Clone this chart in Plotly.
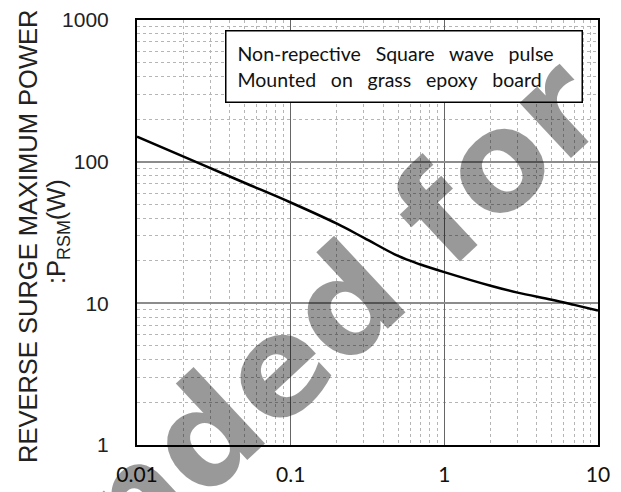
import plotly.graph_objects as go

# Data (pulse width vs. max surge power)
pulse_width = [0.01, 0.025, 0.05, 0.1, 0.2, 0.3, 0.5, 0.7, 1, 2, 3, 5, 7, 10]
power_w = [150, 98, 71, 51.5, 36.5, 29.0, 21.6, 18.8, 16.6, 13.3, 11.9, 10.6, 9.75, 8.9]

x_tickvals = [0.01, 0.1, 1, 10]
x_ticktext = ["0.01", "0.1", "1", "10"]
y_tickvals = [1, 10, 100, 1000]
y_ticktext = ["1", "10", "100", "1000"]

G2 = "\u2002\u00a0"
box_lines = ["Non-repective" + G2 + "Square" + G2 + "wave" + G2 + "pulse",
             "Mounted" + G2 + "on" + G2 + "grass" + G2 + "epoxy" + G2 + "board"]
ytitle_1 = "REVERSE SURGE MAXIMUM POWER"
ytitle_2 = ":P<sub>RSM</sub>(W)"
watermark = "Recommended for"

fig = go.Figure()
fig.add_trace(go.Scatter(
    x=pulse_width, y=power_w, mode="lines",
    line=dict(color="black", width=2.5, shape="spline", smoothing=1.0),
    showlegend=False, hoverinfo="skip"))

# page body has an 8px margin; plot area targeted at viewport 137..598 x 20..445
OFF = 8
W, H = 621 - OFF, 492 - OFF
L, T = 137 - OFF, 20 - OFF
R, B = 23, 47
pw, ph = W - L - R, H - T - B

def px(x):
    return (x - 137) / pw

def py(y):
    return (445 - y) / ph

axis_common = dict(
    type="log", showline=True, mirror=True, linecolor="black", linewidth=2,
    ticks="", showgrid=True, zeroline=False, automargin=False,
)

fig.update_xaxes(
    **axis_common, range=[-2, 1], tickvals=x_tickvals, ticktext=x_ticktext,
    gridcolor="#666666", gridwidth=1,
    minor=dict(dtick="D1", showgrid=True, gridcolor="#b5b5b5", griddash="dot", gridwidth=1, ticks=""),
    tickfont=dict(family="Lato", size=21, color="#111111"),
    ticklabelstandoff=10,
)
fig.update_yaxes(
    **axis_common, range=[0, 3], tickvals=y_tickvals, ticktext=y_ticktext,
    gridcolor="#8c8c8c", gridwidth=2,
    minor=dict(dtick="D1", showgrid=True, gridcolor="#b5b5b5", griddash="dot", gridwidth=1, ticks=""),
    tickfont=dict(family="Liberation Sans", size=21, color="#222222"),
    ticklabelstandoff=22,
)

annotations = [
    dict(text="<br>".join(box_lines), xref="paper", yref="paper",
         x=px(225), y=py(30), xanchor="left", yanchor="top", align="left",
         showarrow=False, bgcolor="white", bordercolor="black", borderwidth=1.5,
         borderpad=11, width=333, height=48,
         font=dict(family="Lato", size=19.5, color="#111111")),
    dict(text=ytitle_1, xref="paper", yref="paper", x=px(28), y=py(237),
         xanchor="center", yanchor="middle", textangle=-90, showarrow=False,
         font=dict(family="Liberation Sans", size=25.5, color="#222222")),
    dict(text=ytitle_2, xref="paper", yref="paper", x=px(58), y=py(232),
         xanchor="center", yanchor="middle", textangle=-90, showarrow=False,
         font=dict(family="Liberation Sans", size=25.5, color="#222222")),
    dict(text=watermark, xref="paper", yref="paper", x=px(61), y=py(568),
         xanchor="center", yanchor="middle", textangle=-43, showarrow=False,
         font=dict(family="DejaVu Sans", size=138, color="rgba(0,0,0,0.4)", weight="bold")),
]

fig.update_layout(
    width=W, height=H, margin=dict(l=L, r=R, t=T, b=B),
    paper_bgcolor="white", plot_bgcolor="white",
    annotations=annotations, showlegend=False,
)

fig.write_html("out.html")
